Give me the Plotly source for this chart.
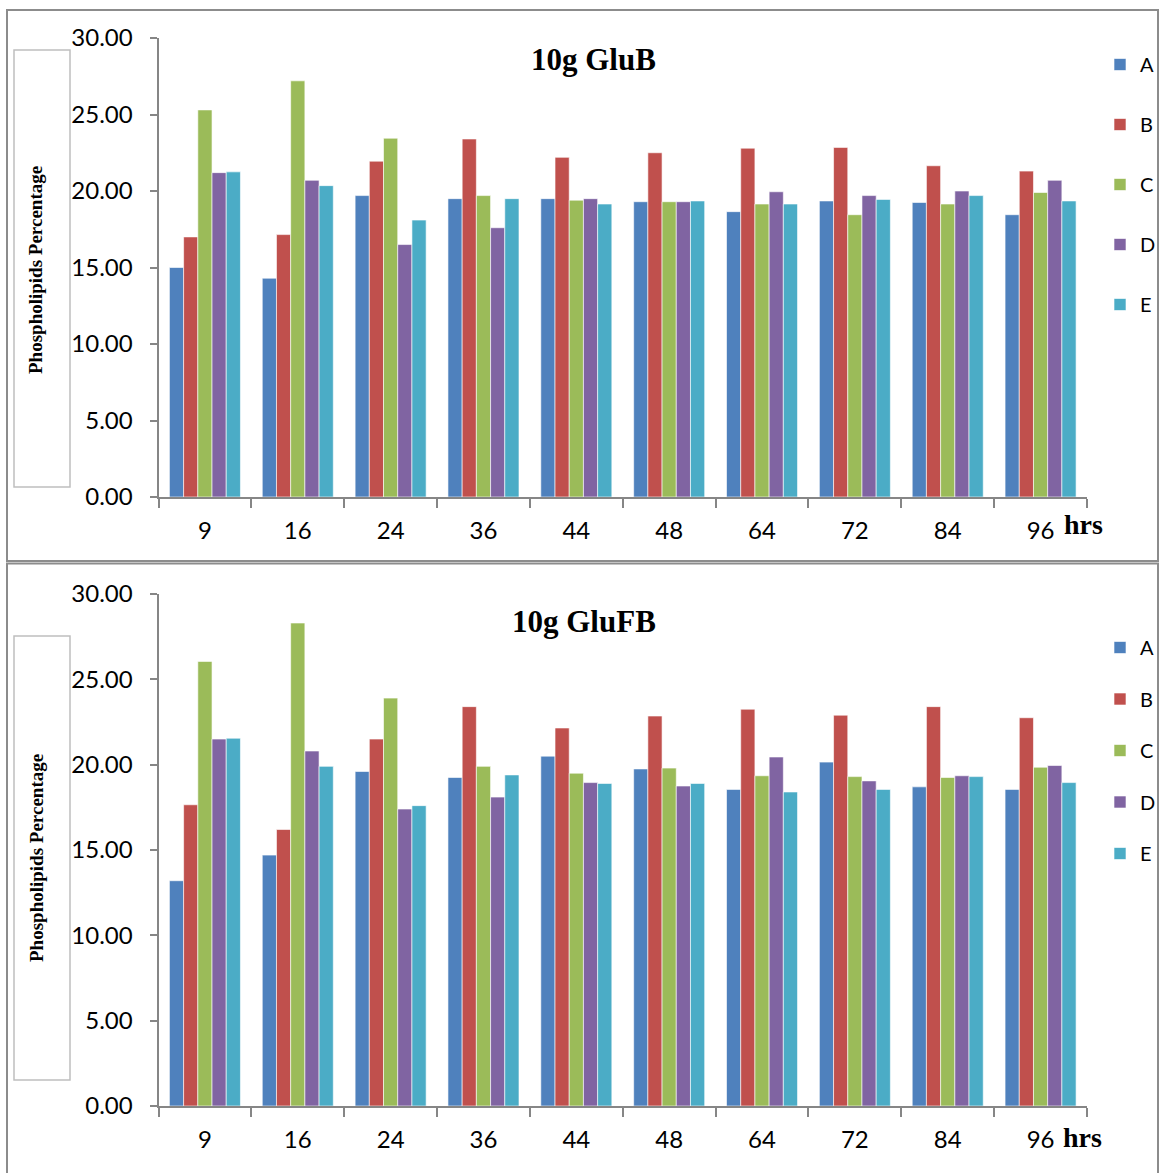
import plotly.graph_objects as go

# ---------------- data ----------------
hours = ["9", "16", "24", "36", "44", "48", "64", "72", "84", "96"]
series_names = ["A", "B", "C", "D", "E"]

glub_A = [15.0, 14.3, 19.7, 19.5, 19.5, 19.3, 18.65, 19.35, 19.25, 18.45]
glub_B = [17.0, 17.15, 21.95, 23.4, 22.2, 22.5, 22.8, 22.85, 21.65, 21.3]
glub_C = [25.3, 27.2, 23.45, 19.7, 19.4, 19.3, 19.15, 18.45, 19.15, 19.9]
glub_D = [21.2, 20.7, 16.5, 17.6, 19.5, 19.3, 19.95, 19.7, 20.0, 20.7]
glub_E = [21.25, 20.35, 18.1, 19.5, 19.15, 19.35, 19.15, 19.45, 19.7, 19.35]

glufb_A = [13.2, 14.7, 19.6, 19.25, 20.5, 19.75, 18.55, 20.15, 18.7, 18.55]
glufb_B = [17.65, 16.2, 21.5, 23.4, 22.15, 22.85, 23.25, 22.9, 23.4, 22.75]
glufb_C = [26.05, 28.3, 23.9, 19.9, 19.5, 19.8, 19.35, 19.3, 19.25, 19.85]
glufb_D = [21.5, 20.8, 17.4, 18.1, 18.95, 18.75, 20.45, 19.05, 19.35, 19.95]
glufb_E = [21.55, 19.9, 17.6, 19.4, 18.9, 18.9, 18.4, 18.55, 19.3, 18.95]

title_top = "10g GluB"
title_bottom = "10g GluFB"
y_title = "Phospholipids Percentage"
x_unit = "hrs"

colors = ["#4F81BD", "#C0504D", "#9BBB59", "#8064A2", "#4BACC6"]

# ---------------- helpers ----------------
W, H = 1160, 1173


def px(x):
    return x / W


def py(y):
    return 1 - y / H


fig = go.Figure()

top_vals = [glub_A, glub_B, glub_C, glub_D, glub_E]
bot_vals = [glufb_A, glufb_B, glufb_C, glufb_D, glufb_E]

for i, name in enumerate(series_names):
    fig.add_trace(go.Bar(
        x=hours, y=top_vals[i], name=name,
        marker=dict(color=colors[i], line=dict(color="rgba(255,255,255,0.6)", width=1)),
        xaxis="x", yaxis="y", legend="legend", legendgroup="t" + name,
        hoverinfo="x+y+name",
    ))
for i, name in enumerate(series_names):
    fig.add_trace(go.Bar(
        x=hours, y=bot_vals[i], name=name,
        marker=dict(color=colors[i], line=dict(color="rgba(255,255,255,0.6)", width=1)),
        xaxis="x2", yaxis="y2", legend="legend2", legendgroup="b" + name,
        hoverinfo="x+y+name",
    ))

axis_col = "#868686"
tick_font = dict(family="Lato", size=24, color="#000000")

xcommon = dict(
    type="category", showline=True, linecolor=axis_col, linewidth=2,
    ticks="outside", tickson="boundaries", ticklen=9, tickwidth=2, tickcolor=axis_col,
    tickfont=tick_font, showgrid=False, zeroline=False, ticklabelstandoff=11,
    domain=[px(158.5), px(1087)], fixedrange=True,
)
ycommon = dict(
    range=[0, 30], tick0=0, dtick=5, tickformat=".2f",
    showline=True, linecolor=axis_col, linewidth=2,
    ticks="outside", ticklen=7, tickwidth=2, tickcolor=axis_col,
    tickfont=tick_font, showgrid=False, zeroline=False, ticklabelstandoff=12,
    fixedrange=True,
)

legend_common = dict(
    xanchor="left", yanchor="top",
    font=dict(family="Lato", size=20, color="#000000"),
    traceorder="grouped", bgcolor="rgba(0,0,0,0)", itemwidth=30,
    itemclick=False, itemdoubleclick=False,
)

shapes = [
    # panel borders
    dict(type="rect", xref="paper", yref="paper", x0=px(7), x1=px(1158), y0=py(561), y1=py(10),
         line=dict(color="#8c8c8c", width=2), layer="below"),
    dict(type="rect", xref="paper", yref="paper", x0=px(7), x1=px(1158), y0=py(1180), y1=py(563.5),
         line=dict(color="#8c8c8c", width=2), layer="below"),
    # y-title boxes
    dict(type="rect", xref="paper", yref="paper", x0=px(14), x1=px(70), y0=py(487), y1=py(50),
         line=dict(color="#bfbfbf", width=1.5), layer="below"),
    dict(type="rect", xref="paper", yref="paper", x0=px(14), x1=px(70), y0=py(1080), y1=py(636),
         line=dict(color="#bfbfbf", width=1.5), layer="below"),
]

serif_bold = dict(family="Liberation Serif", color="#000000", weight="bold")

annotations = [
    dict(text=title_top, x=px(593), y=py(59), xref="paper", yref="paper", showarrow=False,
         font=dict(size=31, **serif_bold), xanchor="center", yanchor="middle"),
    dict(text=title_bottom, x=px(584), y=py(621), xref="paper", yref="paper", showarrow=False,
         font=dict(size=31, **serif_bold), xanchor="center", yanchor="middle"),
    dict(text=x_unit, x=px(1083), y=py(524), xref="paper", yref="paper", showarrow=False,
         font=dict(size=28, **serif_bold), xanchor="center", yanchor="middle"),
    dict(text=x_unit, x=px(1082), y=py(1137), xref="paper", yref="paper", showarrow=False,
         font=dict(size=28, **serif_bold), xanchor="center", yanchor="middle"),
    dict(text=y_title, x=px(36), y=py(270), xref="paper", yref="paper", showarrow=False,
         textangle=-90, font=dict(size=19, **serif_bold), xanchor="center", yanchor="middle"),
    dict(text=y_title, x=px(36), y=py(858), xref="paper", yref="paper", showarrow=False,
         textangle=-90, font=dict(size=19, **serif_bold), xanchor="center", yanchor="middle"),
]

fig.update_layout(
    width=W, height=H, autosize=False,
    margin=dict(l=0, r=0, t=0, b=0, pad=0, autoexpand=False),
    paper_bgcolor="#ffffff", plot_bgcolor="rgba(0,0,0,0)",
    barmode="group", bargap=0.235, bargroupgap=0,
    xaxis=dict(anchor="y", **xcommon),
    yaxis=dict(anchor="x", domain=[py(497), py(38)], **ycommon),
    xaxis2=dict(anchor="y2", **xcommon),
    yaxis2=dict(anchor="x2", domain=[py(1106), py(594)], **ycommon),
    legend=dict(x=px(1100), y=py(45), tracegroupgap=31, **legend_common),
    legend2=dict(x=px(1100), y=py(628), tracegroupgap=22.5, **legend_common),
    shapes=shapes,
    annotations=annotations,
    font=dict(family="Lato"),
)

fig.write_html("out.html", config={"displayModeBar": False},
               post_script="document.body.style.margin='0';")
